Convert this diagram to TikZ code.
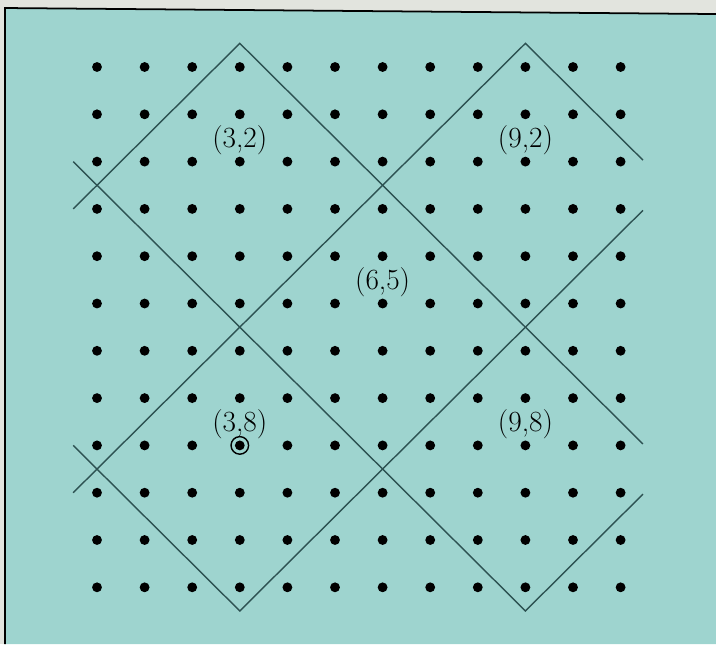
\documentclass[tikz,border=0pt]{standalone}
\definecolor{paper}{RGB}{158,212,207}
\definecolor{margin}{RGB}{226,228,222}
\definecolor{rule}{RGB}{45,82,82}
\begin{document}
\begin{tikzpicture}[
    x=1.428cm, y=-1.419cm,
    dot/.style={circle, fill=black, inner sep=0pt, minimum size=8.4pt},
    ring/.style={circle, draw=black, line width=1.2pt, inner sep=0pt, minimum size=15pt},
    region/.style={draw=none, inner sep=1pt, font=\fontsize{25}{30}\selectfont},
    border/.style={draw=rule, line width=1.2pt, line join=miter}
]
\useasboundingbox[fill=margin] (-2.038,-1.4165) rectangle (13.004,12.199);
\fill[paper] (-1.933,-1.247) -- (13.004,-1.120) -- (13.004,12.199) -- (-1.933,12.199) -- cycle;
\draw[line width=1.5pt] (-1.933,12.199) -- (-1.933,-1.247) -- (13.004,-1.120);

\foreach \i in {0,...,11}
    \foreach \j in {0,...,11}
        \node[dot] (d\i-\j) at (\i,\j) {};
\node[ring] (mark) at (d3-8) {};

\foreach \cx/\cy in {3/2, 9/2, 6/5, 3/8, 9/8}
    \node[region] (r\cx\cy) at (\cx,\cy-0.45) {(\cx,\cy)};

\coordinate (w1) at (-0.5,2);
\coordinate (w2) at (-0.5,3);
\coordinate (w3) at (-0.5,8);
\coordinate (w4) at (-0.5,9);
\coordinate (n1) at (3,-0.5);
\coordinate (n2) at (9,-0.5);
\coordinate (s1) at (3,11.5);
\coordinate (s2) at (9,11.5);
\coordinate (e1) at (11.47,1.97);
\coordinate (e2) at (11.47,3.03);
\coordinate (e3) at (11.47,7.97);
\coordinate (e4) at (11.47,9.03);

\draw[border] (w2) -- (n1) -- (e3);
\draw[border] (w4) -- (n2) -- (e1);
\draw[border] (w1) -- (s2) -- (e4);
\draw[border] (w3) -- (s1) -- (e2);
\end{tikzpicture}
\end{document}
